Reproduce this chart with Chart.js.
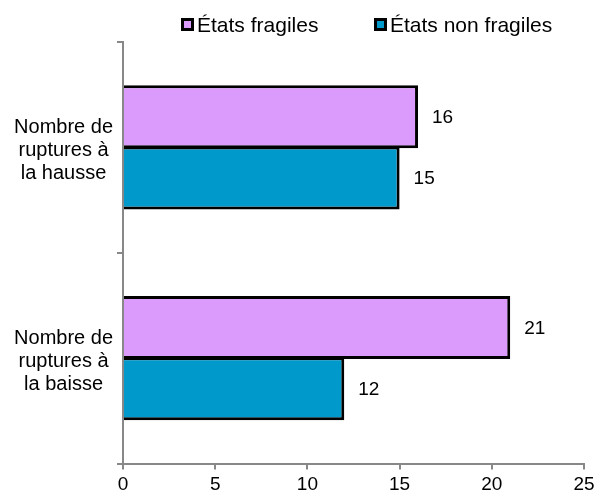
<!DOCTYPE html>
<html>
<head>
<meta charset="utf-8">
<script src="https://cdn.jsdelivr.net/npm/chart.js@4/dist/chart.umd.min.js"></script>
<style>
  html, body { margin: 0; padding: 0; background: #fff; }
  #wrap { width: 600px; height: 502px; position: relative; }
</style>
</head>
<body>
<div id="wrap"><canvas id="ruptureChart"></canvas></div>
<script>
// Chart data
const categories = [
    ['Nombre de', 'ruptures à', 'la hausse'],
    ['Nombre de', 'ruptures à', 'la baisse']
];
const seriesNames = ['États fragiles', 'États non fragiles'];
const fragiles = [16, 21];
const nonFragiles = [15, 12];
const xTicks = [0, 5, 10, 15, 20, 25];

const colors = ['#DA9BFC', '#0099CC'];
const FONT = '"Liberation Sans", Arial, sans-serif';

// legend drawn by hand (small square + text right next to it)
const customLegend = {
    id: 'customLegend',
    afterDraw(chart) {
        const ctx = chart.ctx;
        const items = [
            { x: 181, label: seriesNames[0], color: colors[0] },
            { x: 374, label: seriesNames[1], color: colors[1] }
        ];
        ctx.save();
        ctx.font = '21px ' + FONT;
        ctx.textBaseline = 'middle';
        ctx.textAlign = 'left';
        items.forEach(item => {
            ctx.fillStyle = '#000';
            ctx.fillRect(item.x, 18, 13, 13);
            ctx.fillStyle = item.color;
            ctx.fillRect(item.x + 3, 21, 7, 7);
            ctx.fillStyle = '#000';
            ctx.fillText(item.label, item.x + 16, 26);
        });
        ctx.restore();
    }
};

// value labels to the right of each bar
const valueLabels = {
    id: 'valueLabels',
    afterDatasetsDraw(chart) {
        const ctx = chart.ctx;
        ctx.save();
        ctx.font = '19px ' + FONT;
        ctx.fillStyle = '#000';
        ctx.textAlign = 'left';
        ctx.textBaseline = 'middle';
        chart.data.datasets.forEach((ds, i) => {
            chart.getDatasetMeta(i).data.forEach((bar, j) => {
                ctx.fillText(String(ds.data[j]), bar.x + 14, bar.y + 1);
            });
        });
        ctx.restore();
    }
};

const ctx = document.getElementById('ruptureChart').getContext('2d');
new Chart(ctx, {
    type: 'bar',
    data: {
        labels: categories,
        datasets: [{
            label: seriesNames[0],
            data: fragiles,
            backgroundColor: colors[0],
            borderColor: '#000',
            borderWidth: 3,
            categoryPercentage: 0.58,
            barPercentage: 1.03
        }, {
            label: seriesNames[1],
            data: nonFragiles,
            backgroundColor: colors[1],
            borderColor: '#000',
            borderWidth: 3,
            categoryPercentage: 0.58,
            barPercentage: 1.03
        }]
    },
    options: {
        indexAxis: 'y',
        responsive: true,
        maintainAspectRatio: false,
        animation: false,
        layout: { padding: { top: 42, right: 16, bottom: 0, left: 0 } },
        plugins: {
            legend: { display: false },
            tooltip: { enabled: false }
        },
        scales: {
            x: {
                min: 0,
                max: 25,
                afterBuildTicks: axis => { axis.ticks = xTicks.map(v => ({ value: v })); },
                afterFit: axis => { axis.height = 34; },
                ticks: { color: '#000', font: { family: FONT, size: 19 }, padding: 4 },
                grid: { drawOnChartArea: false, tickLength: 6, color: '#888', lineWidth: 2 },
                border: { color: '#888', width: 2 }
            },
            y: {
                afterFit: axis => { axis.width = 123; },
                ticks: {
                    color: '#000',
                    font: { family: FONT, size: 20, lineHeight: '23px' },
                    crossAlign: 'center',
                    labelOffset: 3,
                    padding: 4
                },
                grid: { drawOnChartArea: false, offset: true, tickLength: 6, color: '#888', lineWidth: 2 },
                border: { color: '#888', width: 2 }
            }
        }
    },
    plugins: [customLegend, valueLabels]
});
</script>
</body>
</html>
